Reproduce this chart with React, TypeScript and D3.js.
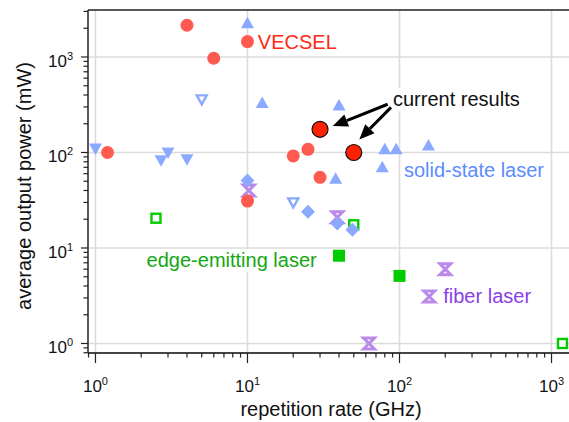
import React from "react";
import * as d3 from "d3";

// ---- data ----
const vecselX = [1.2, 4, 6, 10, 10, 20, 25, 30];
const vecselY = [100, 2150, 970, 1450, 31, 92, 108, 55];
const currentX = [30, 50];
const currentY = [175, 100];
const ssUpX = [10, 12.5, 40, 38, 80, 95, 155, 77];
const ssUpY = [2250, 330, 310, 53, 108, 108, 118, 70];
const ssDownX = [1, 2.7, 3, 4];
const ssDownY = [110, 83, 100, 85];
const ssOpenDownX = [5, 20];
const ssOpenDownY = [360, 30];
const ssDiamondX = [10, 25, 39, 49];
const ssDiamondY = [51, 24, 18, 15.5];
const fiberX = [10.2, 39, 200, 157, 63];
const fiberY = [40, 21, 6, 3.1, 1.0];
const edgeOpenX = [2.5, 50, 1180];
const edgeOpenY = [20.5, 17.5, 1.0];
const edgeFilledX = [40, 100];
const edgeFilledY = [8.3, 5.1];

const xMajorTicks = [1, 10, 100, 1000];
const yMajorTicks = [1, 10, 100, 1000];
const tickExponents = ["0", "1", "2", "3"];

const labelTexts = ["VECSEL", "current results", "solid-state laser", "edge-emitting laser", "fiber laser"];
const labelX = [11.7, 90.6, 107, 2.17, 194];
const labelY = [1205, 307, 55.8, 6.32, 2.64];

const arrowTailX = [83.6, 87.9];
const arrowTailY = [320, 297];
const arrowTipX = [36.4, 54.4];
const arrowTipY = [189, 137];

// ---- layout ----
const W = 569;
const H = 422;
const left = 88;
const right = 569;
const top = 10;
const bottom = 353;

const x = d3.scaleLog().domain([0.893, 1303]).range([left, right]);
const y = d3.scaleLog().domain([0.795, 3105]).range([bottom, top]);

const FONT = "'Liberation Sans', Arial, Helvetica, sans-serif";

const C_RED = "#ff5a4f";
const C_CUR = "#ff2200";
const C_BLUE = "#8aa9ff";
const C_PURPLE = "#b98ae9";
const C_GREEN = "#00cc00";

const labelColors = ["#ff2a12", "#111111", "#5a8cff", "#12a812", "#8a3ee6"];

function zip(xs: number[], ys: number[]) {
  return xs.map((v, i) => [x(v), y(ys[i])] as [number, number]);
}

const triUp = "M0,-6.5 L6.5,5 L-6.5,5 Z";
const triDown = "M0,6.5 L6.5,-5 L-6.5,-5 Z";
const triDownOpen = "M0,5 L5,-4 L-5,-4 Z";
const diamond = "M0,-7 L7,0 L0,7 L-7,0 Z";
const hourglass = "M-5.5,-5.5 L5.5,-5.5 L-5.5,5.5 L5.5,5.5 Z";

export default function App() {
  const xt = x.ticks();
  const yt = y.ticks();
  const isMajor = (v: number) => Math.abs(Math.log10(v) - Math.round(Math.log10(v))) < 1e-6;

  const arrows = arrowTailX.map((_, i) => {
    const x1 = x(arrowTailX[i]);
    const y1 = y(arrowTailY[i]);
    const x2 = x(arrowTipX[i]);
    const y2 = y(arrowTipY[i]);
    const ang = Math.atan2(y2 - y1, x2 - x1);
    const L = 15;
    const hw = 6.5;
    const bx = x2 - L * Math.cos(ang);
    const by = y2 - L * Math.sin(ang);
    const px = -Math.sin(ang);
    const py = Math.cos(ang);
    const head = `M${x2},${y2} L${bx + hw * px},${by + hw * py} L${bx - hw * px},${by - hw * py} Z`;
    return { x1, y1, bx, by, head };
  });

  return (
    <svg width={W} height={H} style={{ display: "block", position: "absolute", left: 0, top: 0 }}>
      <rect x={0} y={0} width={W} height={H} fill="#fff" />
      {/* grid */}
      {xMajorTicks.map((v) => (
        <line key={"gx" + v} x1={x(v)} x2={x(v)} y1={top} y2={bottom} stroke="#dcdcdc" strokeWidth={1.6} />
      ))}
      {yMajorTicks.map((v) => (
        <line key={"gy" + v} x1={left} x2={right} y1={y(v)} y2={y(v)} stroke="#dcdcdc" strokeWidth={1.6} />
      ))}

      {/* label backgrounds */}
      {[1, 3].map((i) => {
        const w = i === 1 ? 134 : 180;
        return (
          <rect key={"bg" + i} x={x(labelX[i]) - 1} y={y(labelY[i]) - 18} width={w} height={23} fill="#fff" />
        );
      })}

      {/* top frame */}
      <line x1={left} x2={right} y1={top} y2={top} stroke="#222" strokeWidth={1.5} />

      {/* axes */}
      <line x1={left} x2={right} y1={bottom} y2={bottom} stroke="#444" strokeWidth={2} />
      <line x1={left} x2={left} y1={top} y2={bottom} stroke="#222" strokeWidth={1.5} />
      {xt.map((v, i) => (
        <line key={"xt" + i} x1={x(v)} x2={x(v)} y1={bottom} y2={bottom + (isMajor(v) ? 10 : 4.5)} stroke="#222" strokeWidth={1.2} />
      ))}
      {yt.map((v, i) => (
        <line key={"yt" + i} x1={left} x2={left - (isMajor(v) ? 7 : 4.5)} y1={y(v)} y2={y(v)} stroke="#222" strokeWidth={1.2} />
      ))}
      {xMajorTicks.map((v, i) => (
        <text key={"xl" + v} x={x(v)} y={392} textAnchor="middle" fontFamily={FONT} fontSize={17} fill="#111">
          10<tspan fontSize={11} dy={-7}>{tickExponents[i]}</tspan>
        </text>
      ))}
      {yMajorTicks.map((v, i) => (
        <text key={"yl" + v} x={73} y={y(v) + 10} textAnchor="end" fontFamily={FONT} fontSize={17} fill="#111">
          10<tspan fontSize={11} dy={-7}>{tickExponents[i]}</tspan>
        </text>
      ))}
      <text x={331} y={416} textAnchor="middle" fontFamily={FONT} fontSize={20} fill="#111">
        repetition rate (GHz)
      </text>
      <text transform={`translate(31,186) rotate(-90)`} textAnchor="middle" fontFamily={FONT} fontSize={20} fill="#111">
        average output power (mW)
      </text>

      {/* fiber */}
      {zip(fiberX, fiberY).map(([cx, cy], i) => (
        <path key={"f" + i} d={hourglass} transform={`translate(${cx},${cy})`} fill="none" stroke={C_PURPLE} strokeWidth={3} strokeLinejoin="miter" />
      ))}
      {/* edge emitting */}
      {zip(edgeOpenX, edgeOpenY).map(([cx, cy], i) => (
        <rect key={"eo" + i} x={cx - 4.5} y={cy - 4.5} width={9} height={9} fill="#fff" stroke={C_GREEN} strokeWidth={2.4} />
      ))}
      {zip(edgeFilledX, edgeFilledY).map(([cx, cy], i) => (
        <rect key={"ef" + i} x={cx - 6} y={cy - 6} width={12} height={12} fill={C_GREEN} />
      ))}
      {/* solid state */}
      {zip(ssUpX, ssUpY).map(([cx, cy], i) => (
        <path key={"su" + i} d={triUp} transform={`translate(${cx},${cy})`} fill={C_BLUE} />
      ))}
      {zip(ssDownX, ssDownY).map(([cx, cy], i) => (
        <path key={"sd" + i} d={triDown} transform={`translate(${cx},${cy})`} fill={C_BLUE} />
      ))}
      {zip(ssOpenDownX, ssOpenDownY).map(([cx, cy], i) => (
        <path key={"so" + i} d={triDownOpen} transform={`translate(${cx},${cy})`} fill="#fff" stroke={C_BLUE} strokeWidth={2.4} />
      ))}
      {zip(ssDiamondX, ssDiamondY).map(([cx, cy], i) => (
        <path key={"sdm" + i} d={diamond} transform={`translate(${cx},${cy})`} fill={C_BLUE} />
      ))}
      {/* VECSEL */}
      {zip(vecselX, vecselY).map(([cx, cy], i) => (
        <circle key={"v" + i} cx={cx} cy={cy} r={6.5} fill={C_RED} />
      ))}
      {zip(currentX, currentY).map(([cx, cy], i) => (
        <circle key={"c" + i} cx={cx} cy={cy} r={8} fill={C_CUR} stroke="#111" strokeWidth={1.2} />
      ))}

      {/* arrows */}
      {arrows.map((a, i) => (
        <g key={"a" + i}>
          <line x1={a.x1} y1={a.y1} x2={a.bx} y2={a.by} stroke="#000" strokeWidth={3} />
          <path d={a.head} fill="#000" />
        </g>
      ))}

      {/* labels */}
      {labelTexts.map((t, i) => (
        <text key={"lab" + i} x={x(labelX[i])} y={y(labelY[i])} fontFamily={FONT} fontSize={20} fill={labelColors[i]}>
          {t}
        </text>
      ))}
    </svg>
  );
}
